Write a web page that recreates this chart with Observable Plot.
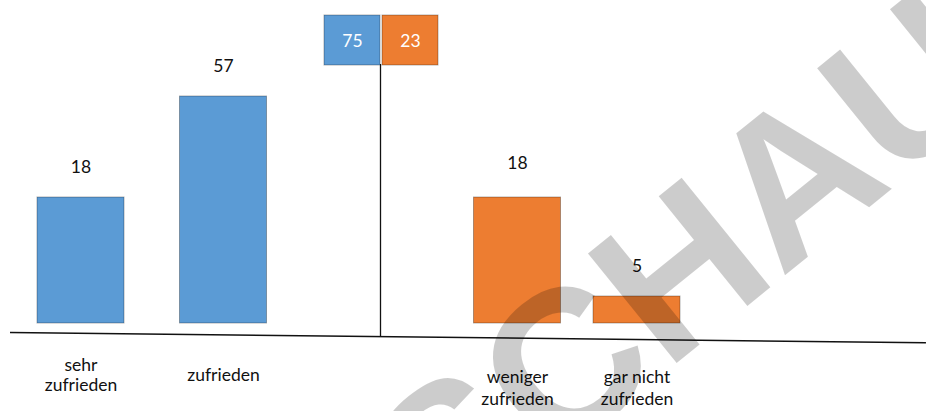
<!DOCTYPE html>
<html>
<head>
<meta charset="utf-8">
<script src="https://cdn.jsdelivr.net/npm/d3@7"></script>
<script src="https://cdn.jsdelivr.net/npm/@observablehq/plot@0.6"></script>
<style>
  html, body { margin: 0; padding: 0; background: #fff; }
  #chart { width: 926px; height: 411px; overflow: hidden; }
</style>
</head>
<body>
<div id="chart"></div>
<script>
// ---- data ----
const categories = ["sehr zufrieden", "zufrieden", "weniger zufrieden", "gar nicht zufrieden"];
const values = [18, 57, 18, 5];
const groups = ["positiv", "positiv", "negativ", "negativ"];
const totalGroups = ["positiv", "negativ"];
const totalValues = [75, 23];
const watermarkText = "VORSCHAU";

// ---- tables built from the arrays ----
const bars = categories.map((c, i) => ({category: c, value: values[i], group: groups[i], pos: i}));
const totals = totalGroups.map((g, i) => ({group: g, value: totalValues[i]}));
const divider = 1.5; // between the positive and the negative group

// the hand-drawn chart is not linear: piecewise scale transforms
const xWarp = d3.scaleLinear([0, 1, divider, 2, 3], [80.5, 223, 380, 517, 636.5]);
const yWarp = d3.scaleLinear([0, 5, 18, 57], [0, 27, 126, 227]);

const font = "Lato, 'Open Sans', sans-serif";

const chart = Plot.plot({
  width: 926,
  height: 411,
  marginTop: 0, marginRight: 0, marginBottom: 0, marginLeft: 0,
  style: {fontFamily: font, background: "#fff", overflow: "visible"},
  x: {transform: xWarp, domain: [0, 926], range: [0, 926], axis: null},
  y: {transform: yWarp, domain: [0, 323], range: [323, 0], axis: null},
  color: {domain: ["positiv", "negativ"], range: ["#5b9bd5", "#ed7d31"]},
  marks: [
    // bars
    Plot.rect(bars, {x1: "pos", x2: "pos", y1: () => 0, y2: "value", fill: "group",
      stroke: "black", strokeOpacity: 0.3, strokeWidth: 1, insetLeft: -43.5, insetRight: -43.5}),
    // value labels
    Plot.text(bars.filter(d => d.category !== "weniger zufrieden"), {x: "pos", y: "value", text: d => String(d.value),
      dy: -30, lineAnchor: "middle", fontSize: 17.5, fill: "#111"}),
    Plot.text(bars.filter(d => d.category === "weniger zufrieden"), {x: "pos", y: "value", text: d => String(d.value),
      dy: -34, lineAnchor: "middle", fontSize: 17.5, fill: "#111"}),
    // category labels
    Plot.text(bars.filter(d => d.group === "positiv"), {x: "pos", text: "category", frameAnchor: "bottom",
      lineAnchor: "middle", dy: -36.5, lineWidth: 5, lineHeight: 1.12, fontSize: 17.5, fill: "#111"}),
    Plot.text(bars.filter(d => d.group === "negativ"), {x: "pos", text: "category", frameAnchor: "bottom",
      lineAnchor: "middle", dy: -24.5, lineWidth: 5, lineHeight: 1.25, fontSize: 17.5, fill: "#111"}),
    // divider
    Plot.ruleX([divider], {insetTop: 64, insetBottom: 74, stroke: "#111", strokeWidth: 1.3}),
    // baseline
    Plot.ruleY([0], {dy: 9, insetLeft: 10, stroke: "#111", strokeWidth: 1.5}),
    // totals boxes
    Plot.rect(totals.filter(d => d.group === "positiv"), {x1: () => divider, x2: () => divider, fill: "group",
      stroke: "black", strokeOpacity: 0.3, insetLeft: -56, insetRight: 0, insetTop: 15, insetBottom: 346}),
    Plot.rect(totals.filter(d => d.group === "negativ"), {x1: () => divider, x2: () => divider, fill: "group",
      stroke: "black", strokeOpacity: 0.3, insetLeft: 2, insetRight: -58, insetTop: 15, insetBottom: 346}),
    Plot.text(totals.filter(d => d.group === "positiv"), {x: () => divider, text: d => String(d.value),
      frameAnchor: "top", lineAnchor: "middle", dy: 41, dx: -28, fontSize: 17.5, fill: "white"}),
    Plot.text(totals.filter(d => d.group === "negativ"), {x: () => divider, text: d => String(d.value),
      frameAnchor: "top", lineAnchor: "middle", dy: 41, dx: 30, fontSize: 17.5, fill: "white"}),
    // watermark
    Plot.text([watermarkText], {text: d => d, frameAnchor: "bottom-left", textAnchor: "start", lineAnchor: "bottom",
      rotate: -39, dx: 99, dy: 419, fontSize: 205, fontWeight: "bold", fontFamily: "Liberation Sans",
      fill: "black", fillOpacity: 0.2})
  ]
});

// tilt the baseline slightly as in the reference
for (const line of chart.querySelectorAll("line")) {
  const y1 = +line.getAttribute("y1"), y2 = +line.getAttribute("y2");
  const x1 = +line.getAttribute("x1"), x2 = +line.getAttribute("x2");
  if (y1 === y2 && x2 - x1 > 800) line.setAttribute("transform", `rotate(0.644, ${x1}, ${y1})`);
}

document.getElementById("chart").appendChild(chart);
</script>
</body>
</html>
